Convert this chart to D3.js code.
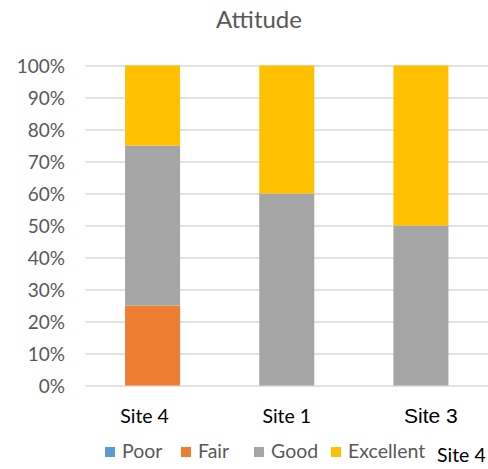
<!DOCTYPE html>
<html>
<head>
<meta charset="utf-8">
<script src="https://cdn.jsdelivr.net/npm/d3@7"></script>
<style>
  html, body { margin: 0; padding: 0; background: #fff; }
  svg { display: block; }
</style>
</head>
<body>
<svg id="chart" width="488" height="469"></svg>
<script>
// Share of responses per site, by rating
const sites = ["Site 4", "Site 1", "Site 3"];
const ratings = ["Poor", "Fair", "Good", "Excellent"];
const poor = [0, 0, 0];
const fair = [0.25, 0, 0];
const good = [0.50, 0.60, 0.50];
const excellent = [0.25, 0.40, 0.50];
const yTicks = [0, 0.1, 0.2, 0.3, 0.4, 0.5, 0.6, 0.7, 0.8, 0.9, 1.0];
const colors = ["#5B9BD5", "#ED7D31", "#A5A5A5", "#FFC000"];

const rows = sites.map((s, i) => ({
  site: s, Poor: poor[i], Fair: fair[i], Good: good[i], Excellent: excellent[i]
}));

const svg = d3.select("#chart");
const font = "Lato, 'Open Sans', sans-serif";
const plotLeft = 85.5, plotRight = 488, plotTop = 65.5, plotBottom = 385.5;

const x = d3.scaleBand().domain(sites).range([plotLeft, plotRight]).paddingInner(0.59).paddingOuter(0.295);
const y = d3.scaleLinear().domain([0, 1]).range([plotBottom, plotTop]);
const color = d3.scaleOrdinal().domain(ratings).range(colors);

// title
svg.append("text")
  .attr("x", 259).attr("y", 28)
  .attr("text-anchor", "middle")
  .attr("font-family", font).attr("font-size", 24)
  .attr("fill", "#595959")
  .text("Attitude");

// gridlines and percentage labels
const yAxis = d3.axisLeft(y).tickValues(yTicks).tickFormat(d3.format(".0%"))
  .tickSize(-(plotRight - plotLeft)).tickPadding(20);
const gy = svg.append("g").attr("transform", `translate(${plotLeft},0)`).call(yAxis);
gy.select(".domain").remove();
gy.selectAll(".tick line").attr("stroke", "#D9D9D9").attr("stroke-width", 1.3);
gy.selectAll(".tick text")
  .attr("x", 65 - plotLeft)
  .attr("dy", "0.36em")
  .attr("font-family", font).attr("font-size", 19)
  .attr("fill", "#595959");

// stacked bars
const stack = d3.stack().keys(ratings)(rows);
svg.append("g").selectAll("g").data(stack).join("g")
  .attr("fill", d => color(d.key))
  .selectAll("rect").data(d => d).join("rect")
  .attr("x", d => x(d.data.site))
  .attr("width", x.bandwidth())
  .attr("y", d => y(d[1]))
  .attr("height", d => y(d[0]) - y(d[1]));

// category labels
const xAxis = d3.axisBottom(x).tickSize(0);
const gx = svg.append("g").attr("transform", `translate(0,${plotBottom})`).call(xAxis);
gx.select(".domain").remove();
const labelStyle = {
  "Site 4": { dx: -8, family: font, size: 19.5 },
  "Site 1": { dx: 0, family: font, size: 19.5 },
  "Site 3": { dx: 10, family: "'Liberation Sans', Arial, sans-serif", size: 21 }
};
gx.selectAll(".tick text")
  .attr("fill", "#000")
  .attr("y", 423 - plotBottom)
  .attr("dy", 0)
  .attr("dx", d => labelStyle[d].dx)
  .attr("font-family", d => labelStyle[d].family)
  .attr("font-size", d => labelStyle[d].size);

// legend
const legendX = [105, 181, 254, 331];
const legend = svg.append("g").selectAll("g").data(ratings).join("g")
  .attr("transform", (d, i) => `translate(${legendX[i]},447)`);
legend.append("rect").attr("width", 10).attr("height", 10).attr("fill", d => color(d));
legend.append("text")
  .attr("x", 17).attr("y", 11)
  .attr("font-family", font).attr("font-size", 19.5)
  .attr("fill", "#595959")
  .text(d => d);

// stray category label at the lower right
svg.append("text")
  .attr("x", 437).attr("y", 462)
  .attr("font-family", font).attr("font-size", 19.5)
  .attr("fill", "#000")
  .text(sites[0]);
</script>
</body>
</html>
